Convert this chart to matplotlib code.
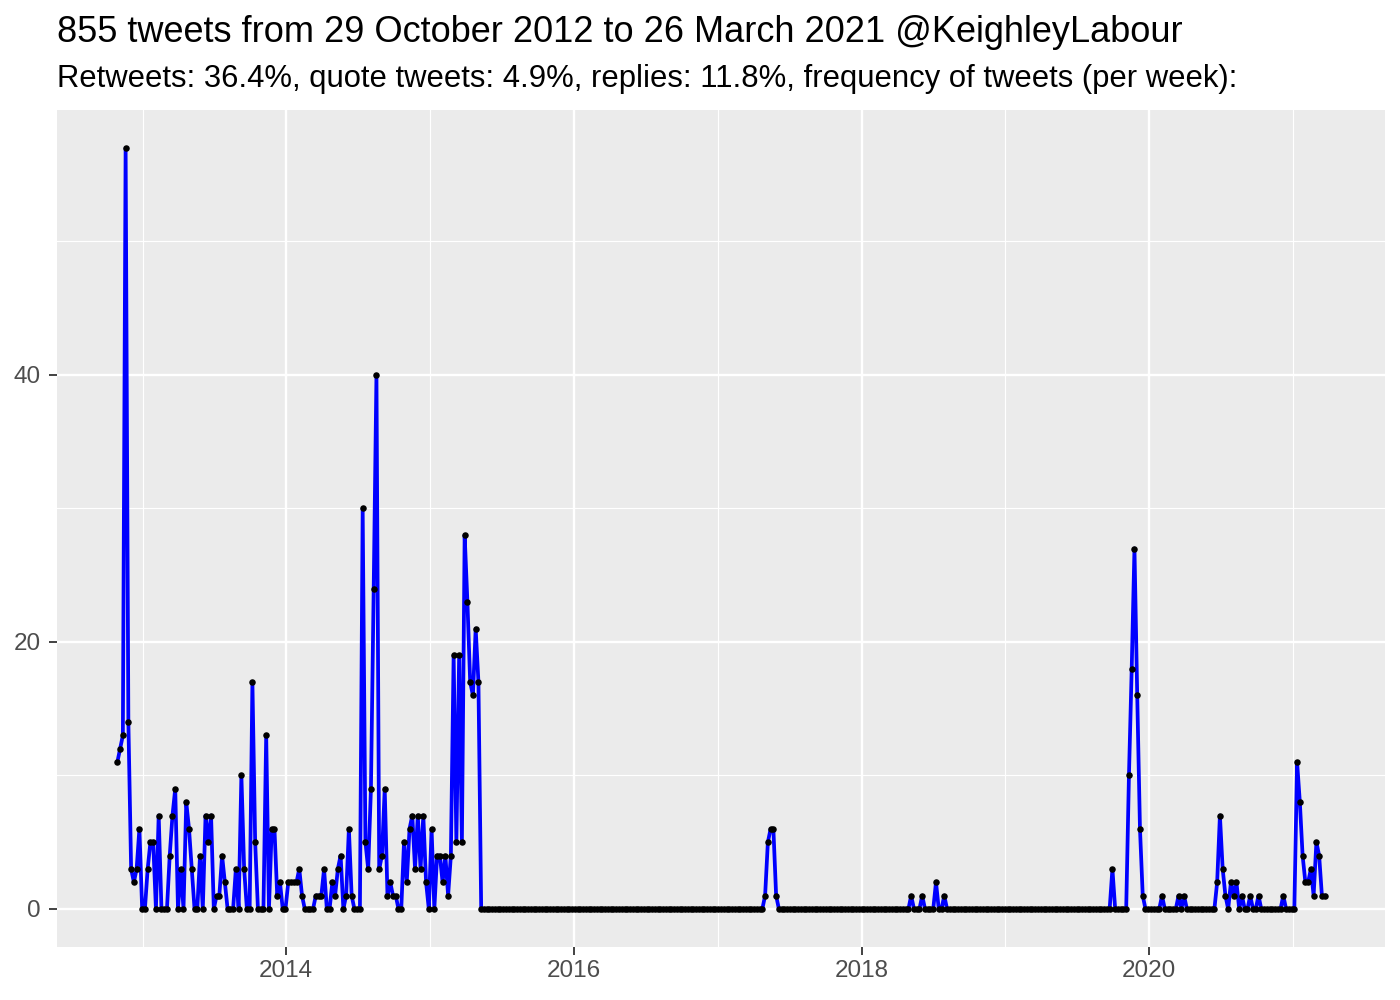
import numpy as np
import pandas as pd
import matplotlib
matplotlib.use("Agg")
import matplotlib.pyplot as plt
import matplotlib.dates as mdates

plt.rcParams['font.family'] = ['Liberation Sans', 'DejaVu Sans']

# weekly tweet counts, weeks starting Monday
first_week = "2012-10-29"
last_week = "2021-03-22"

# Oct 2012 - May 2015, read week by week
early = [11, 12, 13, 57, 14, 3, 2, 3, 6, 0, 0, 3, 5, 5, 0, 7, 0, 0, 0, 4,
         7, 9, 0, 3, 0, 8, 6, 3, 0, 0, 4, 0, 7, 5, 7, 0, 1, 1, 4, 2,
         0, 0, 0, 3, 0, 10, 3, 0, 0, 17, 5, 0, 0, 0, 13, 0, 6, 6, 1, 2,
         0, 0, 2, 2, 2, 2, 3, 1, 0, 0, 0, 0, 1, 1, 1, 3, 0, 0, 2, 1,
         3, 4, 0, 1, 6, 1, 0, 0, 0, 30, 5, 3, 9, 24, 40, 3, 4, 9, 1, 2,
         1, 1, 0, 0, 5, 2, 6, 7, 3, 7, 3, 7, 2, 0, 6, 0, 4, 4, 2, 4,
         1, 4, 19, 5, 19, 5, 28, 23, 17, 16, 21, 17, 0]
spike_2017 = [1, 5, 6, 6, 1]
spike_2019 = [10, 18, 27, 16, 6, 1]
bumps_2020 = [2, 7, 3, 1, 0, 2, 1, 2, 0, 1]
tail_2021 = [11, 8, 4, 2, 2, 3, 1, 5, 4, 1, 1]

counts = (early + [0] * 102 + spike_2017 + [0] * 48
          + [1] + [0] * 3 + [1] + [0] * 4 + [2] + [0] * 2 + [1] + [0] * 60
          + [3] + [0] * 5 + spike_2019 + [0] * 6 + [1] + [0] * 5 + [1, 0, 1]
          + [0] * 11 + bumps_2020 + [0, 0, 1, 0, 0, 1] + [0] * 8 + [1]
          + [0] * 4 + tail_2021)

weeks = pd.date_range(first_week, last_week, freq="W-MON")
counts = np.array(counts[:len(weeks)] + [0] * max(0, len(weeks) - len(counts)))

title = "855 tweets from 29 October 2012 to 26 March 2021 @KeighleyLabour"
subtitle = ("Retweets: 36.4%, quote tweets: 4.9%, replies: 11.8%, "
            "frequency of tweets (per week):")

fig = plt.figure(figsize=(14, 10), dpi=100)
ax = fig.add_axes([0.0407, 0.053, 0.9486, 0.837])
ax.set_facecolor("#EBEBEB")
for s in ax.spines.values():
    s.set_visible(False)

ax.plot(weeks, counts, color="blue", linewidth=2.7, zorder=3)
ax.scatter(weeks, counts, s=22, color="black", zorder=4, linewidths=0)

# ggplot-like expansion
span = weeks[-1] - weeks[0]
ax.set_xlim(weeks[0] - span * 0.05, weeks[-1] + span * 0.05)
ymax = counts.max()
ax.set_ylim(-ymax * 0.05, ymax * 1.05)

ax.xaxis.set_major_locator(mdates.YearLocator(2))
ax.xaxis.set_major_formatter(mdates.DateFormatter("%Y"))
minor_years = pd.to_datetime(["2013-01-01", "2015-01-01", "2017-01-01",
                              "2019-01-01", "2021-01-01"])
ax.set_xticks(minor_years, minor=True)
ax.set_yticks([0, 20, 40])
ax.set_yticks([10, 30, 50], minor=True)

ax.grid(which="major", color="white", linewidth=1.7)
ax.grid(which="minor", color="white", linewidth=0.85)
ax.set_axisbelow(True)
ax.tick_params(which="major", length=5.5, width=1.3, color="#333333",
               labelsize=17.5, labelcolor="#4D4D4D", pad=4)
ax.tick_params(axis="y", which="major", pad=6)
ax.tick_params(which="minor", length=0)

fig.text(0.0407, 0.958, title, fontsize=26, ha="left", va="baseline")
fig.text(0.0407, 0.913, subtitle, fontsize=22.3, ha="left", va="baseline")

fig.savefig("out.png", dpi=100)
